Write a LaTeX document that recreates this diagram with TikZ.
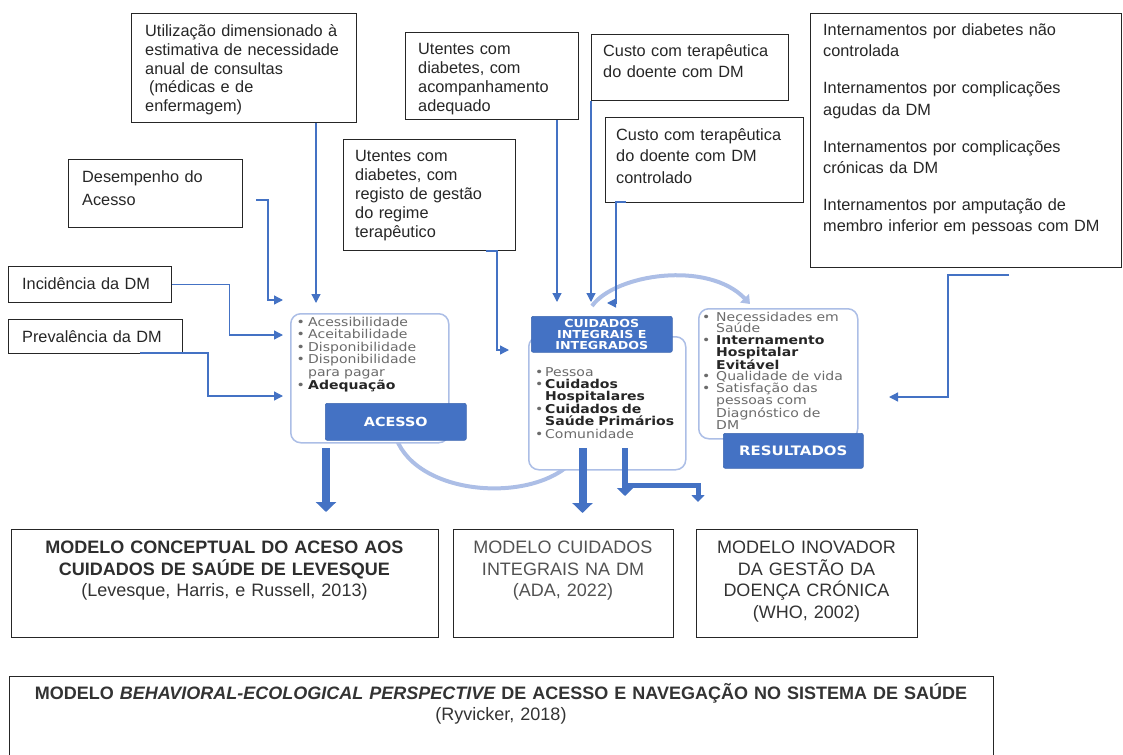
\documentclass[tikz,border=0pt]{standalone}
\usepackage{fontspec}
\setmainfont{Liberation Sans}
\newfontfamily\panelfont[FakeStretch=1.15]{DejaVu Sans}
\usetikzlibrary{arrows.meta}
\definecolor{officeblue}{HTML}{4472C4}
\definecolor{paleblue}{RGB}{172,190,230}
\definecolor{inktext}{HTML}{262626}
\definecolor{listgray}{HTML}{6B6B6B}
\definecolor{listdark}{HTML}{262626}

\tikzset{
  box/.style={draw=black!85, line width=1.3bp, rectangle, inner sep=0pt, anchor=north west},
  boxtext/.style={anchor=base west, align=left, inner sep=0pt, text=inktext,
    text width=300bp, font=\fontsize{16.3bp}{#1}\selectfont},
  modtext/.style={anchor=base, align=center, inner sep=0pt, text=black!80,
    text width=#1, font=\fontsize{18bp}{21.5bp}\selectfont},
  panel/.style={draw=paleblue, line width=1.5bp, rounded corners=10bp, fill=white,
    rectangle, inner sep=0pt, anchor=north west},
  bluebox/.style={fill=officeblue, draw=officeblue!90!black, line width=0.6bp,
    rounded corners=2bp, rectangle, inner sep=0pt, anchor=north west},
  bluetext/.style={text=white, inner sep=0pt, align=center,
    font=\panelfont\bfseries\fontsize{#1}{10.8bp}\selectfont},
  listtext/.style={anchor=base west, align=left, inner sep=0pt, text=listgray,
    text width=200bp, font=\panelfont\fontsize{12.2bp}{#1}\selectfont},
  conn/.style={draw=officeblue, line width=1.3bp},
  connarr/.style={conn, -{Triangle[width=9bp,length=9bp]}},
  thickarr/.style={draw=officeblue, line width=#1},
  cyclearc/.style={draw=paleblue, line width=4bp},
}
\newcommand{\bul}[1]{\makebox[#1][l]{•}}
\newcommand{\strongitem}[1]{{\bfseries\color{listdark}#1}}

\begin{document}
\begin{tikzpicture}[x=1bp,y=-1bp]
\useasboundingbox (0,0) rectangle (1123,755);

% cycle arcs behind the three panels
\draw[cyclearc] (396,438) .. controls (418,497) and (535,504) .. (574,460);
\draw[cyclearc, -{Triangle[width=12bp,length=8bp]}]
  (592,306) .. controls (615,274) and (708,260) .. (750,304);

% panels of the cycle
\node[panel, minimum width=158bp, minimum height=129bp] (acessoP) at (290,313) {};
\node[panel, minimum width=157bp, minimum height=133bp] (cuidP) at (528,336) {};
\node[panel, minimum width=159bp, minimum height=130bp] (resP) at (698,308) {};

\node[listtext=12.6bp] (acessoL) at (296.5,326) {%
\bul{11.5bp}Acessibilidade\\
\bul{11.5bp}Aceitabilidade\\
\bul{11.5bp}Disponibilidade\\
\bul{11.5bp}Disponibilidade\\
\hspace*{11.5bp}para pagar\\
\bul{11.5bp}\strongitem{Adequação}};

\node[listtext=12.4bp] (cuidL) at (535,376) {%
\bul{10bp}Pessoa\\
\bul{10bp}\strongitem{Cuidados}\\
\hspace*{10bp}\strongitem{Hospitalares}\\
\bul{10bp}\strongitem{Cuidados de}\\
\hspace*{10bp}\strongitem{Saúde Primários}\\
\bul{10bp}Comunidade};

\node[listtext=11.67bp] (resL) at (702,321) {%
\bul{14bp}Necessidades em\\
\hspace*{14bp}Saúde\\
\bul{14bp}\strongitem{Internamento}\\
\hspace*{14bp}\strongitem{Hospitalar}\\
\hspace*{14bp}\strongitem{Evitável}\\
\bul{14bp}Qualidade de vida\\
\bul{14bp}Satisfação das\\
\hspace*{14bp}pessoas com\\
\hspace*{14bp}Diagnóstico de\\
\hspace*{14bp}DM};

\node[bluebox, minimum width=141bp, minimum height=37bp] (acessoB) at (325,403) {};
\node[bluetext=12.5bp] (acessoT) at (acessoB.center) {ACESSO};
\node[bluebox, minimum width=141bp, minimum height=36bp] (cuidB) at (531,316) {};
\node[bluetext=11bp] (cuidT) at (cuidB.center) {CUIDADOS\\INTEGRAIS E\\INTEGRADOS};
\node[bluebox, minimum width=140bp, minimum height=35bp] (resB) at (723,433) {};
\node[bluetext=13bp] (resT) at (resB.center) {RESULTADOS};

% indicator boxes
\node[box, minimum width=225bp, minimum height=109bp] (util) at (131,13) {};
\node[boxtext=18.6bp] (utilT) at (145,37) {Utilização dimensionado à\\estimativa de necessidade\\anual de consultas\\\hspace*{4bp}(médicas e de\\enfermagem)};

\node[box, minimum width=173bp, minimum height=87bp] (acomp) at (405,32) {};
\node[boxtext=18.7bp] (acompT) at (418,55) {Utentes com\\diabetes, com\\acompanhamento\\adequado};

\node[box, minimum width=197bp, minimum height=66bp] (custoA) at (591,34) {};
\node[boxtext=21bp] (custoAT) at (603,57) {Custo com terapêutica\\do doente com DM};

\node[box, minimum width=311bp, minimum height=254bp] (intern) at (810,13) {};
\node[boxtext=21bp] (internT) at (823,36) {Internamentos por diabetes não\\controlada\\[16bp]Internamentos por complicações\\agudas da DM\\[16bp]Internamentos por complicações\\crónicas da DM\\[16bp]Internamentos por amputação de\\membro inferior em pessoas com DM};

\node[box, minimum width=198bp, minimum height=85bp] (custoB) at (605,117) {};
\node[boxtext=21.5bp] (custoBT) at (616,140) {Custo com terapêutica\\do doente com DM\\controlado};

\node[box, minimum width=172bp, minimum height=111bp] (regist) at (343,139) {};
\node[boxtext=19bp] (registT) at (355,161) {Utentes com\\diabetes, com\\registo de gestão\\do regime\\terapêutico};

\node[box, minimum width=174bp, minimum height=68bp] (desemp) at (68,159) {};
\node[boxtext=23bp] (desempT) at (82,182) {Desempenho do\\Acesso};

\node[box, minimum width=163bp, minimum height=36bp] (incid) at (8,266) {};
\node[boxtext=18bp] (incidT) at (22,289) {Incidência da DM};

\node[box, minimum width=174bp, minimum height=34bp] (preval) at (8,319) {};
\node[boxtext=18bp] (prevalT) at (22,342) {Prevalência da DM};

% thin connectors into the panels
\coordinate (dS) at (256,200);   \coordinate (dE) at (283,300);
\coordinate (iE) at (283,335);
\coordinate (pS) at (140,353);   \coordinate (pE) at (283,396);
\coordinate (uE) at (316,303);
\coordinate (rS) at (486,251);   \coordinate (rE) at (509,350);
\coordinate (aE) at (557,302);
\coordinate (cE) at (591,302);
\coordinate (kS) at (626,202);   \coordinate (kE) at (607,303);
\coordinate (nS) at (1009,275);  \coordinate (nE) at (889,397);

\draw[connarr] (dS) -- ++(12,0) |- (dE);
\draw[connarr] (incid.east) -- ++(57,0) |- (iE);
\draw[connarr] (pS) -- ++(68,0) |- (pE);
\draw[connarr] (util.south -| uE) -- (uE);
\draw[connarr] (rS) -- ++(11,0) |- (rE);
\draw[connarr] (acomp.south -| aE) -- (aE);
\draw[connarr] (custoA.south -| cE) -- (cE);
\draw[connarr] (kS) -- ++(-10,0) -- ++(0,101) -- (kE);
\draw[connarr] (nS) -- ++(-61,0) |- (nE);

% block arrows towards the models
\coordinate (b1S) at (326,448);   \coordinate (b1E) at (326,512);
\coordinate (b2S) at (582.5,448); \coordinate (b2E) at (582.5,513);
\coordinate (b3S) at (625,448);   \coordinate (b3E) at (625,496);
\coordinate (b4E) at (698,502);
\draw[thickarr=8bp, -{Triangle[width=20bp,length=10bp]}] (b1S) -- (b1E);
\draw[thickarr=8bp, -{Triangle[width=20bp,length=10bp]}] (b2S) -- (b2E);
\draw[thickarr=6bp, -{Triangle[width=16bp,length=8bp]}] (b3S) -- (b3E);
\draw[thickarr=5bp, -{Triangle[width=13bp,length=7bp]}] (625,485) -| (b4E);

% model boxes
\node[box, minimum width=427bp, minimum height=108bp] (modA) at (11,529) {};
\node[modtext=420bp] (modAT) at (224.5,553.5) {{\bfseries\color{black!82}MODELO CONCEPTUAL DO ACESO AOS\\CUIDADOS DE SAÚDE DE LEVESQUE}\\(Levesque, Harris, e Russell, 2013)};

\node[box, minimum width=220bp, minimum height=108bp] (modB) at (453,529) {};
\node[modtext=215bp, text=black!68] (modBT) at (563,553.5) {MODELO CUIDADOS\\INTEGRAIS NA DM\\(ADA, 2022)};

\node[box, minimum width=221bp, minimum height=108bp] (modC) at (696,529) {};
\node[modtext=215bp] (modCT) at (806.5,553.5) {MODELO INOVADOR\\DA GESTÃO DA\\DOENÇA CRÓNICA\\(WHO, 2002)};

\node[box, minimum width=984bp, minimum height=95bp] (modD) at (9,676) {};
\node[modtext=980bp] (modDT) at (501,699) {{\bfseries MODELO \itshape BEHAVIORAL-ECOLOGICAL PERSPECTIVE\upshape{} DE ACESSO E NAVEGAÇÃO NO SISTEMA DE SAÚDE}\\(Ryvicker, 2018)};
\end{tikzpicture}
\end{document}
